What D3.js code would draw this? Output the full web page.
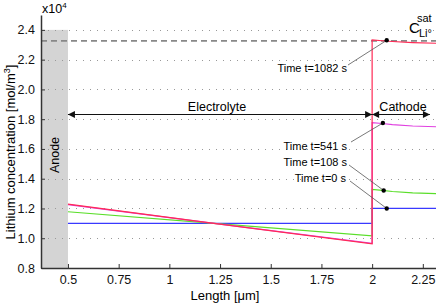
<!DOCTYPE html>
<html>
<head>
<meta charset="utf-8">
<script src="https://cdn.jsdelivr.net/npm/d3@7"></script>
<style>
  body { margin: 0; background: #fff; }
  svg { font-family: "Liberation Sans", Arial, sans-serif; }
</style>
</head>
<body>
<div id="chart"></div>
<script>
"use strict";

// concentration profiles, values in units of 1e4 mol/m^3
const xElectrolyte = [0.5, 1.22, 2.0];
const xCathode = [2.0, 2.05, 2.1, 2.2, 2.32];

const t0 = { e: [1.1, 1.1, 1.1], c: [1.2, 1.2, 1.2, 1.2, 1.2] };
const t108 = { e: [1.178, 1.1, 1.016], c: [1.328, 1.321, 1.314, 1.305, 1.30] };
const t541 = { e: [1.226, 1.1, 0.966], c: [1.776, 1.771, 1.764, 1.754, 1.749] };
const t1082 = { e: [1.229, 1.1, 0.962], c: [2.332, 2.327, 2.322, 2.315, 2.31] };

const csat = 2.326;
const xTicks = [0.5, 0.75, 1, 1.25, 1.5, 1.75, 2, 2.25];
const yTicks = [0.8, 1.0, 1.2, 1.4, 1.6, 1.8, 2.0, 2.2, 2.4];
const gridTicks = [1.0, 1.2, 1.4, 1.6, 1.8, 2.0, 2.2, 2.4];

const series = [
  { name: "t=0", d: t0, color: "#3a3aff" },
  { name: "t=108", d: t108, color: "#5ade2a" },
  { name: "t=541", d: t541, color: "#e040e0" },
  { name: "t=1082", d: t1082, color: "#ff2a55" }
];

// annotation markers: label, data point
const markers = [
  { label: "Time t=1082 s", x: 2.072, y: 2.33, lx: 347, ly: 72, sx: 348, sy: 65 },
  { label: "Time t=541 s", x: 2.053, y: 1.774, lx: 347, ly: 150, sx: 351, sy: 142 },
  { label: "Time t=108 s", x: 2.057, y: 1.321, lx: 347, ly: 166, sx: 349, sy: 165 },
  { label: "Time t=0 s", x: 2.072, y: 1.2, lx: 346, ly: 182, sx: 350, sy: 181 }
];

const W = 436, H = 304;
const x = d3.scaleLinear().domain([0.367, 2.315]).range([41, 436]);
const y = d3.scaleLinear().domain([0.8, 2.5]).range([268, 15]);

const svg = d3.select("#chart").append("svg")
  .attr("width", W).attr("height", H);

// anode region
svg.append("rect")
  .attr("x", x(0.367)).attr("y", y(2.4))
  .attr("width", x(0.5) - x(0.367)).attr("height", y(0.8) - y(2.4))
  .style("fill", "#d4d4d4");

// dotted grid
svg.append("g").selectAll("line").data(gridTicks).enter().append("line")
  .attr("x1", x(0.367)).attr("x2", W)
  .attr("y1", d => Math.round(y(d)) + 0.5).attr("y2", d => Math.round(y(d)) + 0.5)
  .style("stroke", "#999").style("stroke-dasharray", "1,6");

// saturation line
svg.append("line")
  .attr("x1", x(0.367)).attr("x2", W)
  .attr("y1", y(csat)).attr("y2", y(csat))
  .style("stroke", "#888").style("stroke-width", 1.6).style("stroke-dasharray", "6,4");

// profiles
const line = d3.line().x(d => x(d[0])).y(d => y(d[1]));
series.forEach(function(s) {
  const pts = xElectrolyte.map((v, i) => [v, s.d.e[i]])
    .concat(xCathode.map((v, i) => [v, s.d.c[i]]));
  svg.append("path").datum(pts)
    .attr("d", line)
    .style("fill", "none").style("stroke", s.color).style("stroke-width", 1.2);
});

// axes
const xAxis = d3.axisBottom(x).tickValues(xTicks).tickSizeInner(-4).tickSizeOuter(0)
  .tickPadding(7).tickFormat(d3.format(""));
const gx = svg.append("g").attr("transform", "translate(0," + y(0.8) + ")").call(xAxis);
const yAxis = d3.axisLeft(y).tickValues(yTicks).tickSizeInner(-4).tickSizeOuter(0)
  .tickPadding(6).tickFormat(d3.format(".1f"));
const gy = svg.append("g").attr("transform", "translate(" + x(0.367) + ",0)").call(yAxis);
[gx, gy].forEach(function(g) {
  g.select(".domain").style("stroke", "#333").style("stroke-width", 1.5);
  g.selectAll(".tick line").style("stroke", "#333");
  g.selectAll("text").style("font-size", "12.5px").style("fill", "#111")
    .style("font-family", "Liberation Sans, Arial, sans-serif");
});

// arrows
const defs = svg.append("defs");
defs.append("marker").attr("id", "ah").attr("viewBox", "0 0 10 10")
  .attr("refX", 10).attr("refY", 5).attr("markerWidth", 10).attr("markerHeight", 7)
  .attr("markerUnits", "userSpaceOnUse").attr("orient", "auto-start-reverse")
  .append("path").attr("d", "M0,0L10,5L0,10z").style("fill", "#111");

function dblArrow(a, b, yy) {
  svg.append("line")
    .attr("x1", x(a)).attr("x2", x(b)).attr("y1", yy).attr("y2", yy)
    .style("stroke", "#111").style("stroke-width", 1)
    .attr("marker-start", "url(#ah)").attr("marker-end", "url(#ah)");
}
dblArrow(0.5, 2.0, 114.5);
dblArrow(2.0, 2.285, 114.5);

svg.append("text").attr("x", 217).attr("y", 111).attr("text-anchor", "middle")
  .style("font-size", "12.5px").text("Electrolyte");
svg.append("text").attr("x", 403).attr("y", 111).attr("text-anchor", "middle")
  .style("font-size", "12.5px").text("Cathode");
svg.append("text").attr("transform", "translate(59,155) rotate(-90)")
  .attr("text-anchor", "middle").style("font-size", "12.5px").text("Anode");

// time annotations
markers.forEach(function(m) {
  svg.append("line")
    .attr("x1", m.sx).attr("y1", m.sy).attr("x2", x(m.x)).attr("y2", y(m.y))
    .style("stroke", "#555").style("stroke-width", 0.8);
  svg.append("circle").attr("cx", x(m.x)).attr("cy", y(m.y)).attr("r", 2.2)
    .style("fill", "#000");
  svg.append("text").attr("x", m.lx).attr("y", m.ly).attr("text-anchor", "end")
    .style("font-size", "11px").text(m.label);
});

// labels
svg.append("text").attr("transform", "translate(15,152) rotate(-90)")
  .attr("text-anchor", "middle").style("font-size", "13px")
  .html('Lithium concentration [mol/m<tspan dy="-5" font-size="9px">3</tspan><tspan dy="5">]</tspan>');
svg.append("text").attr("x", 225).attr("y", 300).attr("text-anchor", "middle")
  .style("font-size", "13px").text("Length [\u03bcm]");
svg.append("text").attr("x", 42).attr("y", 13).style("font-size", "12.5px")
  .html('x10<tspan dy="-5" font-size="8px">4</tspan>');

const cs = svg.append("text").attr("x", 409).attr("y", 33).style("font-size", "15px");
cs.append("tspan").text("C");
cs.append("tspan").attr("x", 419).attr("y", 37).style("font-size", "11px").text("Li\u00b0");
cs.append("tspan").attr("x", 417).attr("y", 22).style("font-size", "11px").text("sat");
</script>
</body>
</html>
